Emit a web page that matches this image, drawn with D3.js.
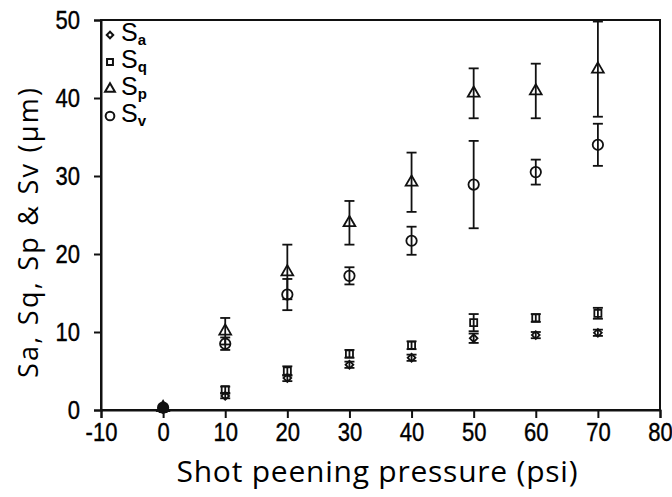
<!DOCTYPE html>
<html>
<head>
<meta charset="utf-8">
<script src="https://cdn.jsdelivr.net/npm/d3@7"></script>
<style>
  body { margin: 0; background: #fff; }
  svg { display: block; }
  .tick text { font-family: "Liberation Sans", Arial, sans-serif; }
</style>
</head>
<body>
<div id="chart"></div>
<script>
// pressures (psi)
var pressure = [0, 10, 20, 30, 40, 50, 60, 70];

// roughness values (um) and error half-widths
var Sa = [0.1, 1.8, 4.1, 5.8, 6.7, 9.2, 9.6, 9.9];
var SaErr = [0, 0.3, 0.4, 0.4, 0.4, 0.6, 0.4, 0.4];
var Sq = [0.2, 2.6, 5.0, 7.2, 8.3, 11.2, 11.8, 12.4];
var SqErr = [0, 0.4, 0.6, 0.5, 0.5, 1.1, 0.5, 0.7];
var Sp = [0.3, 10.1, 17.7, 24.0, 29.2, 40.6, 40.9, 43.7];
var SpErr = [0, 1.7, 3.5, 2.8, 3.8, 3.2, 3.5, 6.1];
var Sv = [0.3, 8.5, 14.8, 17.2, 21.7, 28.9, 30.5, 34.0];
var SvErr = [0, 0.8, 2.0, 1.1, 1.8, 5.6, 1.6, 2.7];

var xTicks = [-10, 0, 10, 20, 30, 40, 50, 60, 70, 80];
var yTicks = [0, 10, 20, 30, 40, 50];

// Sa uses a square turned 45deg (rot) so it reads as a plain diamond
var series = [
    {name: "a", vals: Sa, err: SaErr, sym: d3.symbolSquare, size: 30, rot: 45},
    {name: "q", vals: Sq, err: SqErr, sym: d3.symbolSquare, size: 50, rot: 0},
    {name: "p", vals: Sp, err: SpErr, sym: d3.symbolTriangle, size: 60, rot: 0},
    {name: "v", vals: Sv, err: SvErr, sym: d3.symbolCircle, size: 85, rot: 0}
];

var svgWidth = 672, svgHeight = 497;
var margin = {top: 20, right: 12, bottom: 87, left: 101};
var width = svgWidth - margin.left - margin.right;
var height = svgHeight - margin.top - margin.bottom;
var squeeze = 0.88;   // tick font is a narrow face

var svg = d3.select("#chart").append("svg")
    .attr("width", svgWidth)
    .attr("height", svgHeight);
var g = svg.append("g")
    .attr("transform", "translate(" + margin.left + "," + margin.top + ")");

var x = d3.scaleLinear().domain([-10, 80]).range([0, width]);
var y = d3.scaleLinear().domain([0, 50]).range([height, 0]);

// frame
g.append("rect")
    .attr("width", width)
    .attr("height", height)
    .attr("fill", "none")
    .attr("stroke", "#111")
    .attr("stroke-width", 2);

var fmt = function(d){ return String(d); };
var xAxis = g.append("g")
    .attr("transform", "translate(0," + height + ")")
    .call(d3.axisBottom(x).tickValues(xTicks).tickFormat(fmt).tickSize(8).tickPadding(5));
var yAxis = g.append("g")
    .call(d3.axisLeft(y).tickValues(yTicks).tickFormat(fmt).tickSize(7).tickPadding(14));

[xAxis, yAxis].forEach(function(a){
    a.select(".domain").attr("stroke", "#111").attr("stroke-width", 2);
    a.selectAll(".tick line").attr("stroke", "#111").attr("stroke-width", 2);
    a.selectAll(".tick text")
        .attr("fill", "#000")
        .attr("stroke", "#000")
        .attr("stroke-width", 0.4)
        .attr("transform", "scale(" + squeeze + ",1)")
        .style("font-size", "25px");
});
yAxis.selectAll(".tick text").attr("x", -21 / squeeze);

// error bars + markers
series.forEach(function(s){
    var pts = pressure.map(function(p, i){ return {x: p, v: s.vals[i], e: s.err[i]}; });
    var eb = g.append("g").attr("stroke", "#111").attr("stroke-width", 1.8).attr("fill", "none");
    pts.filter(function(d){ return d.e > 0; }).forEach(function(d){
        var cx = x(d.x), y1 = y(d.v + d.e), y2 = y(d.v - d.e);
        eb.append("line").attr("x1", cx).attr("x2", cx).attr("y1", y1).attr("y2", y2);
        eb.append("line").attr("x1", cx - 5).attr("x2", cx + 5).attr("y1", y1).attr("y2", y1);
        eb.append("line").attr("x1", cx - 5).attr("x2", cx + 5).attr("y1", y2).attr("y2", y2);
    });
    g.append("g").selectAll("path")
        .data(pts)
        .enter().append("path")
        .attr("d", d3.symbol().type(s.sym).size(s.size))
        .attr("transform", function(d){
            return "translate(" + x(d.x) + "," + y(d.v) + ") rotate(" + s.rot + ")";
        })
        .attr("fill", "#111")
        .attr("fill-opacity", function(d){ return d.x === 0 ? 1 : 0; })
        .attr("stroke", "#111")
        .attr("stroke-width", 1.8);
});

// legend
var leg = g.append("g").attr("transform", "translate(9,15)");
series.forEach(function(s, i){
    var row = leg.append("g").attr("transform", "translate(0," + (i * 27) + ")");
    row.append("path")
        .attr("d", d3.symbol().type(s.sym).size(s.size * 0.7))
        .attr("transform", "rotate(" + s.rot + ")")
        .attr("fill", "none")
        .attr("stroke", "#111")
        .attr("stroke-width", 2);
    var t = row.append("text")
        .attr("x", 11)
        .attr("y", 6)
        .attr("fill", "#000")
        .style("font-family", "'Liberation Sans', Arial, sans-serif")
        .style("font-size", "25px")
        .text("S");
    t.append("tspan")
        .attr("dy", 4)
        .style("font-size", "15px")
        .style("font-weight", "bold")
        .text(s.name);
});

// axis titles
svg.append("text")
    .attr("x", 377)
    .attr("y", 482)
    .attr("text-anchor", "middle")
    .attr("textLength", 401)
    .attr("lengthAdjust", "spacing")
    .attr("fill", "#000")
    .style("font-family", "'Open Sans', 'Noto Sans', sans-serif")
    .style("font-size", "30px")
    .text("Shot peening pressure (psi)");

svg.append("text")
    .attr("transform", "translate(38,233) rotate(-90)")
    .attr("text-anchor", "middle")
    .attr("textLength", 290)
    .attr("lengthAdjust", "spacing")
    .attr("fill", "#000")
    .style("font-family", "'Open Sans', 'Noto Sans', sans-serif")
    .style("font-size", "27px")
    .text("Sa, Sq, Sp & Sv (\u00b5m)");
</script>
</body>
</html>
